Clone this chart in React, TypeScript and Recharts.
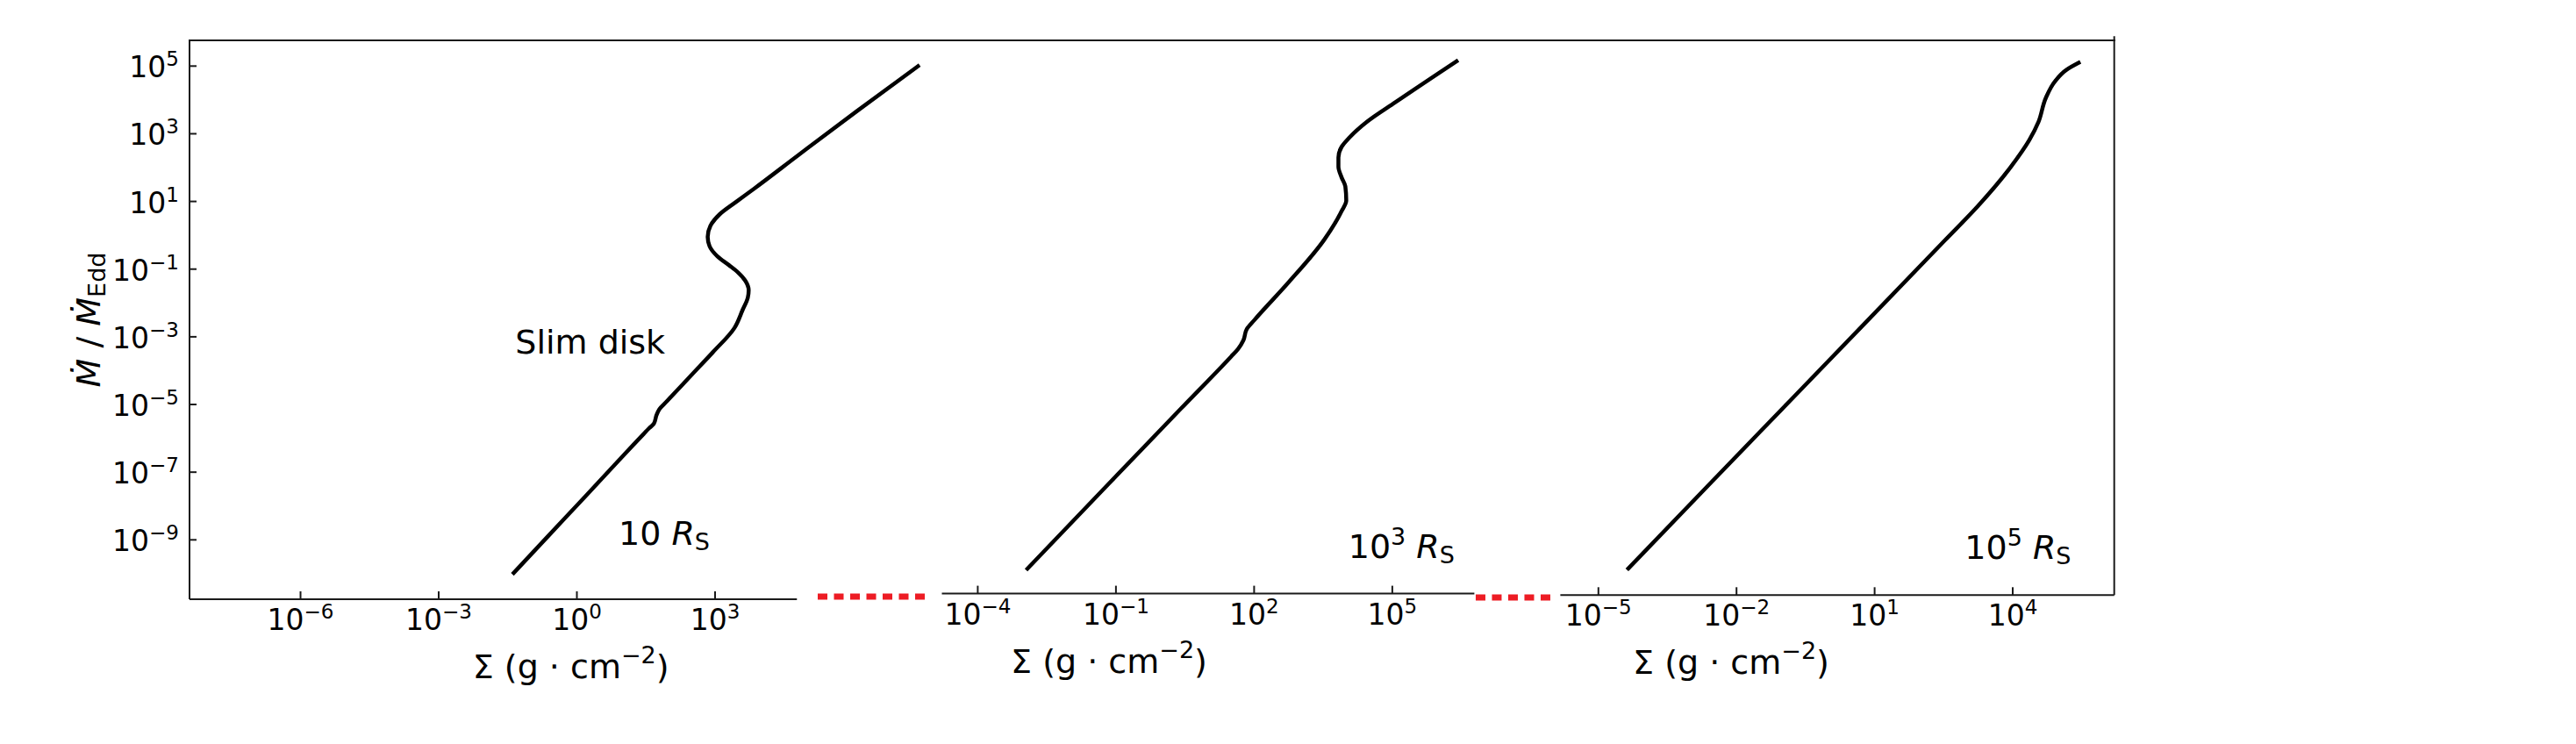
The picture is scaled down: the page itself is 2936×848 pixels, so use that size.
import React from 'react';
import { LineChart, Line, XAxis, YAxis, ReferenceLine, ReferenceDot } from 'recharts';

const FONT = "'DejaVu Sans', sans-serif";
const INK = '#1a1a1a';
const BREAK_RED = '#ed1c24';

// log10(Sigma) / log10(Mdot/MdotEdd), one pair per radius
const logSigma10 = [-1.40, -0.59, 0.18, 0.87, 1.45, 1.57, 1.67, 1.73, 1.79, 1.95, 2.50, 2.95, 3.42, 3.60, 3.71, 3.73, 3.66, 3.50, 3.30, 3.05, 2.88, 2.84, 2.90, 3.10, 3.45, 3.85, 4.81, 6.08, 7.44];
const logMdot10 = [-10.02, -8.84, -7.72, -6.71, -5.87, -5.70, -5.57, -5.31, -5.14, -4.91, -4.11, -3.46, -2.74, -2.20, -1.85, -1.62, -1.35, -1.10, -0.88, -0.62, -0.32, -0.05, 0.28, 0.62, 0.98, 1.38, 2.37, 3.67, 5.03];

const logSigma1e3 = [-2.95, -1.15, 0.41, 1.50, 1.65, 1.77, 1.84, 2.00, 2.74, 3.52, 3.90, 4.00, 3.98, 3.90, 3.83, 3.83, 3.90, 4.06, 4.45, 5.07, 6.43];
const logMdot1e3 = [-10.06, -7.50, -5.29, -3.75, -3.53, -3.26, -2.94, -2.68, -1.57, -0.30, 0.55, 0.86, 1.28, 1.54, 1.86, 2.13, 2.45, 2.71, 3.19, 3.77, 5.01];

const logSigma1e5 = [-4.38, -2.54, -0.85, 0.91, 2.52, 3.25, 3.96, 4.36, 4.56, 4.72, 4.92, 5.16, 5.47];
const logMdot1e5 = [-10.01, -7.41, -5.03, -2.55, -0.28, 0.75, 1.90, 2.69, 3.23, 3.94, 4.43, 4.76, 5.00];

// tick exponents
const yTickExps = [-9, -7, -5, -3, -1, 1, 3, 5];
const xTickExps10 = [-6, -3, 0, 3];
const xTickExps1e3 = [-4, -1, 2, 5];
const xTickExps1e5 = [-5, -2, 1, 4];

// axis ranges (exponents)
const yRange = [-10.755, 5.76];
const xRange10 = [-8.41, 7.667];
const xRange1e3 = [-4.779, 8.583];
const xRange1e5 = [-5.827, 6.205];

// where the cut x axes stop, and the red break marks between panels
const axisEnd10 = 4.777;
const axisEnd1e3 = 6.781;
const break10 = { from: 5.229, to: 7.571, y: -10.677 };
const break1e3 = { from: 6.811, to: 8.478, y: -10.869 };

const pow = (e: number) => Math.pow(10, e);
const toRows = (s: number[], m: number[]) => s.map((v, i) => ({ sigma: pow(v), mdot: pow(m[i]) }));

const rows10 = toRows(logSigma10, logMdot10);
const rows1e3 = toRows(logSigma1e3, logMdot1e3);
const rows1e5 = toRows(logSigma1e5, logMdot1e5);

const yDomain = [pow(yRange[0]), pow(yRange[1])];
const yTicks = yTickExps.map(pow);

const axisStyle = { stroke: INK, strokeWidth: 2 };

const fmtExp = (e: number) => (e < 0 ? `\u2212${-e}` : `${e}`);

const PowerOfTen = ({ x, y, exp, anchor }: { x: number; y: number; exp: number; anchor: 'start' | 'middle' | 'end' }) => (
    <text x={x} y={y} textAnchor={anchor} fontFamily={FONT} fontSize={33} fill="#000">
        <tspan>10</tspan>
        <tspan dy={-13} fontSize={23}>{fmtExp(exp)}</tspan>
    </text>
);

const XTick = (props: any) => {
    const { x, y, payload } = props;
    return <PowerOfTen x={x} y={y + 35} exp={Math.round(Math.log10(payload.value))} anchor="middle" />;
};

const YTick = (props: any) => {
    const { x, y, payload } = props;
    return <PowerOfTen x={x} y={y + 13} exp={Math.round(Math.log10(payload.value))} anchor="end" />;
};

const SigmaLabel = (props: any) => {
    const { x, y } = props.viewBox;
    return (
        <text x={x} y={y + 90} textAnchor="middle" fontFamily={FONT} fontSize={38} fill="#000">
            <tspan>{'\u03a3 (g\u00a0\u00b7\u00a0cm'}</tspan>
            <tspan dy={-17} fontSize={27}>{'\u22122'}</tspan>
            <tspan dy={17}>)</tspan>
        </text>
    );
};

const RadiusLabel = (props: any) => {
    const { x, y } = props.viewBox;
    const sup = props.power as string;
    return (
        <text x={x} y={y} fontFamily={FONT} fontSize={38} fill="#000">
            <tspan>10</tspan>
            {sup ? <tspan dy={-15} fontSize={27}>{sup}</tspan> : null}
            <tspan dy={sup ? 15 : 0}>{'\u00a0'}</tspan>
            <tspan fontStyle="italic">R</tspan>
            <tspan dy={6} fontSize={27}>S</tspan>
        </text>
    );
};

const NoteLabel = (props: any) => {
    const { x, y } = props.viewBox;
    return (
        <text x={x} y={y} fontFamily={FONT} fontSize={38} fill="#000">
            {props.caption}
        </text>
    );
};

const MdotLabel = (props: any) => {
    const { x, y, height } = props.viewBox;
    const cx = x + 113.5;
    const cy = y + height / 2;
    return (
        <text transform={`translate(${cx},${cy}) rotate(-90)`} x={0} y={0} textAnchor="middle" fontFamily={FONT} fontSize={38} fill="#000">
            <tspan fontStyle="italic">{'\u1e40'}</tspan>
            <tspan>{'\u00a0/\u00a0'}</tspan>
            <tspan fontStyle="italic">{'\u1e40'}</tspan>
            <tspan dy={6} fontSize={27}>Edd</tspan>
        </text>
    );
};

const curveProps = {
    dataKey: 'mdot',
    type: 'monotoneY' as const,
    stroke: '#000',
    strokeWidth: 4.5,
    dot: false,
    activeDot: false,
    isAnimationActive: false,
};

const App: React.FC = () => {
    return (
        <div style={{ position: 'absolute', left: 0, top: 0, width: 2936, height: 848, background: '#fff', overflow: 'hidden' }}>
            {/* shared top frame line */}
            <div style={{ position: 'absolute', left: 215, top: 45, width: 2196, height: 2, background: INK }} />

            {/* 10 R_S */}
            <div style={{ position: 'absolute', left: 0, top: 0 }}>
                <LineChart width={1062} height={848} data={rows10} margin={{ top: 46, right: 2, bottom: 0, left: 0 }}>
                    <XAxis
                        dataKey="sigma"
                        type="number"
                        scale="log"
                        domain={[pow(xRange10[0]), pow(xRange10[1])]}
                        allowDataOverflow
                        ticks={xTickExps10.map(pow)}
                        interval={0}
                        height={165}
                        axisLine={false}
                        tickLine={axisStyle}
                        tickSize={-9}
                        tickMargin={9}
                        tick={XTick}
                    />
                    <YAxis
                        type="number"
                        scale="log"
                        domain={yDomain}
                        allowDataOverflow
                        ticks={yTicks}
                        interval={0}
                        width={216}
                        axisLine={axisStyle}
                        tickLine={axisStyle}
                        tickSize={-8}
                        tickMargin={20}
                        tick={YTick}
                        label={<MdotLabel />}
                    />
                    <ReferenceLine
                        segment={[{ x: pow(xRange10[0]), y: yDomain[0] }, { x: pow(axisEnd10), y: yDomain[0] }]}
                        stroke={INK}
                        strokeWidth={2}
                        ifOverflow="visible"
                    />
                    <ReferenceLine
                        segment={[{ x: pow(break10.from), y: pow(break10.y) }, { x: pow(break10.to), y: pow(break10.y) }]}
                        stroke={BREAK_RED}
                        strokeWidth={7}
                        strokeDasharray="11 7.5"
                        ifOverflow="visible"
                    />
                    <Line {...curveProps} />
                    <ReferenceDot x={pow(-0.13)} y={yDomain[0]} r={0} ifOverflow="visible" label={<SigmaLabel />} />
                    <ReferenceDot x={pow(-1.337)} y={pow(-3.504)} r={0} ifOverflow="visible" label={<NoteLabel caption="Slim disk" />} />
                    <ReferenceDot x={pow(0.905)} y={pow(-9.156)} r={0} ifOverflow="visible" label={<RadiusLabel power="" />} />
                </LineChart>
            </div>

            {/* 10^3 R_S */}
            <div style={{ position: 'absolute', left: 1000, top: 0 }}>
                <LineChart width={780} height={848} data={rows1e3} margin={{ top: 39.6, right: 5, bottom: 0, left: 73.5 }}>
                    <XAxis
                        dataKey="sigma"
                        type="number"
                        scale="log"
                        domain={[pow(xRange1e3[0]), pow(xRange1e3[1])]}
                        allowDataOverflow
                        ticks={xTickExps1e3.map(pow)}
                        interval={0}
                        height={171.4}
                        axisLine={false}
                        tickLine={axisStyle}
                        tickSize={-9}
                        tickMargin={9}
                        tick={XTick}
                    />
                    <YAxis type="number" scale="log" domain={yDomain} allowDataOverflow hide />
                    <ReferenceLine
                        segment={[{ x: pow(xRange1e3[0]), y: yDomain[0] }, { x: pow(axisEnd1e3), y: yDomain[0] }]}
                        stroke={INK}
                        strokeWidth={2}
                        ifOverflow="visible"
                    />
                    <ReferenceLine
                        segment={[{ x: pow(break1e3.from), y: pow(break1e3.y) }, { x: pow(break1e3.to), y: pow(break1e3.y) }]}
                        stroke={BREAK_RED}
                        strokeWidth={7}
                        strokeDasharray="11 7.5"
                        ifOverflow="visible"
                    />
                    <Line {...curveProps} />
                    <ReferenceDot x={pow(-1.15)} y={yDomain[0]} r={0} ifOverflow="visible" label={<SigmaLabel />} />
                    <ReferenceDot x={pow(4.044)} y={pow(-9.698)} r={0} ifOverflow="visible" label={<RadiusLabel power="3" />} />
                </LineChart>
            </div>

            {/* 10^5 R_S */}
            <div style={{ position: 'absolute', left: 1700, top: 0 }}>
                <LineChart width={800} height={848} data={rows1e5} margin={{ top: 41.3, right: 70.3, bottom: 0, left: 78.4 }}>
                    <XAxis
                        dataKey="sigma"
                        type="number"
                        scale="log"
                        domain={[pow(xRange1e5[0]), pow(xRange1e5[1])]}
                        allowDataOverflow
                        ticks={xTickExps1e5.map(pow)}
                        interval={0}
                        height={169.7}
                        axisLine={axisStyle}
                        tickLine={axisStyle}
                        tickSize={-9}
                        tickMargin={9}
                        tick={XTick}
                    />
                    <YAxis
                        orientation="right"
                        type="number"
                        scale="log"
                        domain={yDomain}
                        allowDataOverflow
                        ticks={yTicks}
                        interval={0}
                        width={20}
                        axisLine={axisStyle}
                        tickLine={axisStyle}
                        tickSize={-9}
                        tick={false}
                    />
                    <Line {...curveProps} />
                    <ReferenceDot x={pow(-2.118)} y={yDomain[0]} r={0} ifOverflow="visible" label={<SigmaLabel />} />
                    <ReferenceDot x={pow(2.957)} y={pow(-9.695)} r={0} ifOverflow="visible" label={<RadiusLabel power="5" />} />
                </LineChart>
            </div>
        </div>
    );
};

export default App;
